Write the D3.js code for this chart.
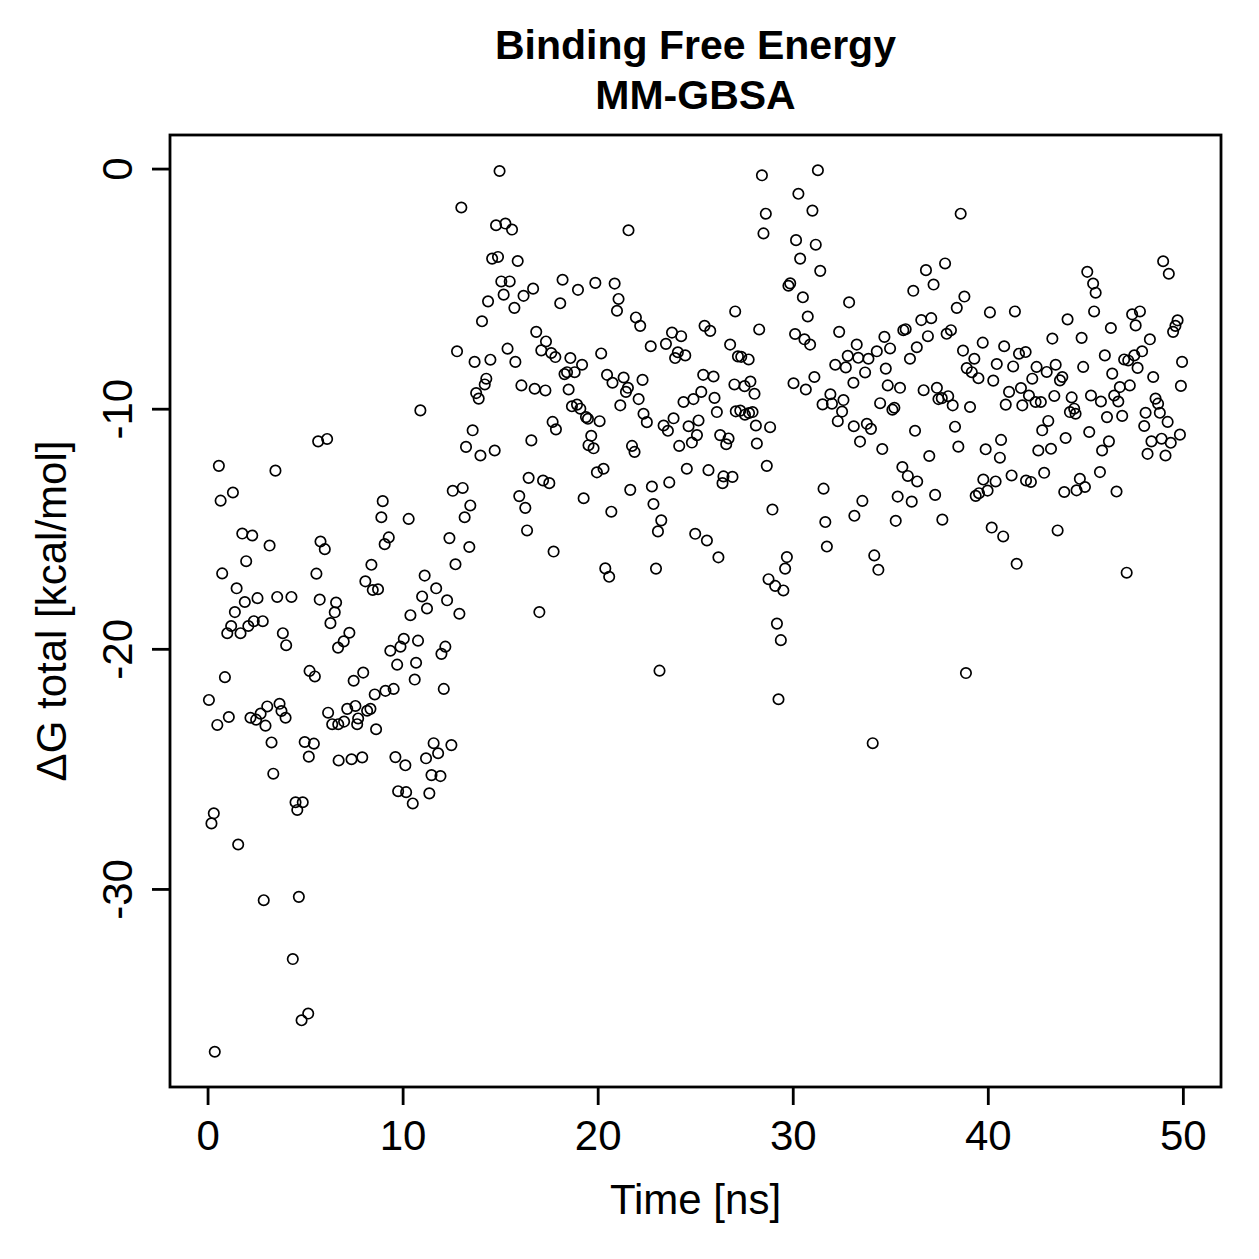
<!DOCTYPE html>
<html>
<head>
<meta charset="utf-8">
<script src="https://cdn.jsdelivr.net/npm/d3@7"></script>
<style>
  body { margin: 0; background: #fff; }
  svg text { font-family: "Liberation Sans", Arial, Helvetica, sans-serif; fill: #000; }
</style>
</head>
<body>
<div id="chart"></div>
<script>
// simulation time [ns]
var time = [
  0.07,0.20,0.32,0.37,0.50,0.58,0.67,0.75,0.89,1.01,1.09,1.21,1.30,1.40,1.49,1.57,1.69,1.78,1.91,1.98,2.09,2.20,2.29,2.37,2.49,2.56,2.72,2.83,2.88,2.97,3.06,3.18,3.28,3.37,3.48,3.57,3.69,3.79,3.86,4.00,4.03,
  4.30,4.37,4.51,4.60,4.68,4.82,4.88,4.98,5.16,5.19,5.23,5.45,5.50,5.58,5.67,5.75,5.79,6.01,6.13,6.18,6.30,6.39,6.52,6.59,6.69,6.70,6.72,6.98,7.00,7.16,7.27,7.38,7.49,7.58,7.67,7.72,7.93,7.98,8.09,8.18,8.35,8.40,8.47,8.57,8.64,8.74,
  8.91,8.98,9.08,9.12,9.29,9.37,9.54,9.63,9.72,9.77,9.89,10.06,10.14,10.18,10.31,10.40,10.52,10.62,10.69,10.79,10.91,11.00,11.13,11.20,11.25,11.37,11.48,11.59,11.72,11.82,11.94,11.99,12.11,12.19,12.28,12.40,12.50,12.57,12.71,12.79,12.91,13.01,13.08,13.18,13.25,
  13.42,13.47,13.59,13.69,13.77,13.90,13.99,14.07,14.21,14.29,14.38,14.50,14.59,14.72,14.79,14.89,14.97,15.06,15.18,15.27,15.38,15.49,15.61,15.73,15.78,15.90,15.98,16.09,16.20,16.29,16.38,16.46,16.60,16.69,16.77,16.85,17.01,17.11,17.20,17.32,17.35,17.52,17.62,17.69,17.74,17.83,17.86,
  18.08,18.20,18.30,18.43,18.51,18.60,18.68,18.82,18.94,18.99,19.11,19.20,19.28,19.40,19.50,19.53,19.67,19.79,19.88,19.96,20.10,20.18,20.30,20.39,20.48,20.59,20.70,20.76,20.87,20.99,21.07,21.16,21.33,21.45,21.55,21.58,21.67,21.76,21.89,21.96,22.10,22.18,22.30,22.35,22.52,
  22.72,22.78,22.86,22.99,23.09,23.17,23.26,23.38,23.50,23.60,23.67,23.81,23.89,23.97,24.11,24.18,24.28,24.40,24.49,24.57,24.66,24.83,24.91,25.00,25.09,25.17,25.31,25.41,25.48,25.60,25.68,25.77,25.94,25.99,26.11,26.19,26.28,26.40,26.45,26.59,26.71,26.79,26.91,27.01,27.05,27.08,27.19,
  27.31,27.36,27.53,27.55,27.74,27.76,27.83,27.94,28.04,28.11,28.16,28.28,28.42,28.50,28.62,28.67,28.76,28.84,28.96,29.10,29.19,29.27,29.39,29.52,29.61,29.70,29.78,29.87,30.04,30.12,30.17,30.29,30.38,30.52,30.60,30.67,30.77,30.89,31.01,31.11,31.18,31.29,31.41,31.53,31.58,31.67,31.75,
  31.93,32.01,32.18,32.31,32.38,32.53,32.60,32.72,32.82,32.89,33.11,33.13,33.16,33.28,33.36,33.45,33.57,33.71,33.80,33.88,34.01,34.10,34.18,34.31,34.39,34.48,34.59,34.70,34.77,34.87,34.99,35.11,35.21,35.28,35.38,35.50,35.62,35.67,35.79,35.90,36.01,36.10,36.18,36.27,36.36,36.38,
  36.59,36.71,36.83,36.93,37.00,37.10,37.22,37.30,37.39,37.47,37.64,37.67,37.81,37.89,37.97,38.11,38.20,38.32,38.41,38.49,38.61,38.73,38.80,38.88,38.92,39.09,39.18,39.31,39.38,39.52,39.55,39.74,39.77,39.89,39.99,40.11,40.20,40.28,40.40,40.46,40.62,40.68,40.79,40.84,40.92,
  41.09,41.22,41.30,41.39,41.48,41.60,41.70,41.77,41.94,41.96,42.11,42.21,42.28,42.45,42.50,42.59,42.72,42.79,42.89,43.02,43.10,43.24,43.31,43.41,43.48,43.58,43.70,43.82,43.92,43.99,44.09,44.21,44.30,44.43,44.50,44.55,44.72,44.81,44.89,44.98,45.10,45.20,45.29,45.40,45.45,45.53,
  45.75,45.80,45.86,46.00,46.11,46.21,46.31,46.38,46.48,46.60,46.69,46.77,46.89,46.99,47.12,47.20,47.28,47.40,47.51,47.58,47.68,47.80,47.91,48.02,48.09,48.19,48.31,48.39,48.48,48.60,48.73,48.82,48.91,48.99,49.11,49.22,49.28,49.38,49.50,49.62,49.73,49.85,49.90,49.96
];

// delta G total [kcal/mol], same order as time
var dG = [
  -22.13,-27.27,-26.85,-36.78,-23.17,-12.38,-13.83,-16.86,-21.18,-19.35,-22.84,-19.05,-13.49,-18.47,-17.48,-28.15,-19.35,-15.20,-18.05,-16.35,-19.05,-22.87,-15.28,-18.85,-22.95,-17.89,-22.70,-18.85,-30.47,-23.20,-22.40,-15.70,-23.90,-25.20,-12.58,-17.84,-22.29,-22.59,-19.35,-22.87,-19.85,
  -17.84,-32.92,-26.39,-26.71,-30.33,-35.47,-26.39,-23.88,-35.19,-24.49,-20.92,-23.95,-21.15,-16.87,-11.36,-17.95,-15.53,-15.85,-11.26,-22.66,-18.93,-23.14,-18.48,-18.07,-19.95,-23.14,-24.65,-19.69,-23.03,-22.50,-19.33,-24.60,-21.33,-22.38,-23.14,-22.90,-24.52,-20.99,-17.19,-22.58,-22.50,-16.50,-17.55,-21.90,-23.35,-17.52,
  -14.52,-13.85,-15.64,-21.75,-15.36,-20.08,-21.67,-24.51,-20.66,-25.93,-19.91,-19.58,-24.85,-25.97,-14.59,-18.60,-26.44,-21.28,-20.58,-19.66,-10.07,-17.82,-16.95,-24.56,-18.32,-26.02,-25.26,-23.93,-17.48,-24.35,-25.30,-20.21,-21.67,-19.91,-17.98,-15.39,-24.01,-13.42,-16.48,-7.61,-18.54,-1.62,-13.30,-14.52,-11.59,
  -15.76,-14.03,-10.90,-8.05,-9.35,-9.58,-11.95,-6.36,-8.99,-8.75,-5.53,-7.96,-3.75,-11.74,-2.36,-3.68,-0.10,-4.70,-5.25,-2.29,-7.50,-4.70,-2.54,-5.80,-8.05,-3.85,-13.64,-9.03,-5.30,-14.13,-15.07,-12.88,-11.32,-5.00,-9.17,-6.80,-18.47,-7.57,-12.99,-9.24,-7.20,-13.10,-7.68,-10.55,-15.95,-7.85,-10.86,
  -5.61,-4.63,-8.56,-8.48,-9.20,-7.89,-9.90,-8.48,-9.83,-5.05,-10.00,-8.17,-13.73,-10.35,-10.42,-11.52,-11.13,-11.65,-4.76,-12.65,-10.52,-7.70,-12.50,-16.65,-8.59,-17.00,-14.29,-8.92,-4.79,-5.92,-5.43,-9.86,-8.70,-9.30,-9.13,-2.57,-13.38,-11.55,-11.80,-6.20,-9.60,-6.55,-8.80,-10.21,-10.56,
  -7.40,-13.24,-13.97,-16.66,-15.11,-20.91,-14.65,-10.70,-7.30,-10.92,-13.07,-6.83,-10.40,-7.89,-7.65,-11.55,-6.98,-9.72,-7.78,-12.50,-10.73,-11.41,-9.60,-15.21,-11.10,-10.49,-9.30,-8.59,-6.55,-15.49,-12.56,-6.76,-8.66,-9.55,-10.14,-16.19,-11.10,-13.10,-12.82,-11.48,-11.24,-7.33,-12.84,-8.99,-5.95,-10.11,-7.82,
  -10.08,-7.84,-9.06,-10.25,-7.95,-10.18,-8.87,-10.14,-9.38,-10.70,-11.45,-6.70,-0.28,-2.70,-1.88,-12.38,-17.10,-10.77,-14.20,-17.38,-18.95,-22.10,-19.64,-17.57,-16.66,-16.18,-4.88,-4.78,-8.94,-6.89,-2.98,-1.05,-3.75,-5.36,-7.11,-9.20,-6.16,-7.33,-1.75,-8.68,-3.17,-0.07,-4.26,-9.82,-13.33,-14.72,-15.74,
  -9.40,-9.79,-8.17,-10.52,-6.80,-10.12,-9.64,-8.28,-7.80,-5.57,-8.92,-10.73,-14.46,-7.33,-7.88,-11.37,-13.84,-8.49,-10.63,-7.92,-10.84,-23.93,-16.11,-7.61,-16.71,-9.77,-11.68,-7.01,-8.33,-9.03,-7.49,-10.04,-9.96,-14.67,-13.66,-9.13,-12.43,-6.73,-6.69,-12.80,-7.92,-13.87,-5.09,-10.92,-7.44,-13.03,
  -6.31,-9.23,-4.23,-6.98,-11.97,-6.23,-4.83,-13.59,-9.13,-9.60,-9.56,-14.62,-3.95,-6.88,-9.48,-6.73,-9.86,-10.75,-5.80,-11.58,-1.88,-7.58,-5.33,-21.01,-8.31,-9.93,-8.48,-7.92,-13.63,-8.73,-13.52,-7.25,-12.95,-11.69,-13.41,-5.99,-14.95,-8.83,-13.03,-8.14,-12.04,-11.30,-15.32,-7.40,-9.83,
  -9.30,-12.78,-8.24,-5.95,-16.46,-7.71,-9.14,-9.86,-7.64,-12.99,-9.45,-13.05,-8.75,-9.72,-8.26,-11.74,-9.72,-10.90,-12.67,-8.47,-10.51,-11.67,-7.08,-9.47,-8.17,-15.07,-8.82,-8.68,-13.47,-11.22,-6.28,-10.14,-9.53,-10.00,-10.21,-13.40,-12.92,-7.05,-8.26,-13.26,-4.30,-10.97,-9.45,-4.79,-5.95,-5.17,
  -12.64,-9.70,-11.74,-7.78,-10.35,-11.36,-6.64,-8.54,-9.45,-13.45,-9.70,-9.10,-10.30,-7.95,-16.83,-7.99,-9.03,-6.07,-7.78,-6.53,-8.30,-5.95,-7.61,-10.72,-10.17,-11.88,-7.11,-11.36,-8.68,-9.58,-9.79,-10.17,-11.25,-3.86,-11.95,-10.55,-4.38,-11.42,-6.80,-6.55,-6.32,-11.08,-9.05,-8.05
];

var xTicks = [0, 10, 20, 30, 40, 50];
var yTicks = [0, -10, -20, -30];
var titleLines = ["Binding Free Energy", "MM-GBSA"];
var xLabel = "Time [ns]";
var yLabel = "\u0394G total [kcal/mol]";

var width = 1259, height = 1259;
var box = { left: 170, right: 1221, top: 135, bottom: 1087 };
var fontSize = 42;
var lineW = 2.8;

// R style axis range: data range plus 4% on each side
function paddedExtent(vals) {
    var ext = d3.extent(vals);
    var pad = (ext[1] - ext[0]) * 0.04;
    return [ext[0] - pad, ext[1] + pad];
}

// plain hyphen for negatives, as R prints them
function plainNumber(d) { return String(d); }

var svg = d3.select("#chart").append("svg")
    .attr("width", width)
    .attr("height", height);

var x = d3.scaleLinear().domain(paddedExtent(time)).range([box.left, box.right]);
var y = d3.scaleLinear().domain(paddedExtent(dG)).range([box.bottom, box.top]);

// points (open circles, like pch = 1)
var points = time.map(function (t, i) { return { t: t, v: dG[i] }; });
svg.append("g")
    .selectAll("circle")
    .data(points)
    .enter()
    .append("circle")
    .attr("cx", function (d) { return x(d.t); })
    .attr("cy", function (d) { return y(d.v); })
    .attr("r", 5.2)
    .style("fill", "none")
    .style("stroke", "#000")
    .style("stroke-width", 1.7);

// x axis
var gx = svg.append("g")
    .attr("transform", "translate(0," + box.bottom + ")")
    .call(d3.axisBottom(x).tickValues(xTicks).tickSize(18).tickFormat(plainNumber));
gx.select(".domain").remove();
gx.selectAll(".tick line").style("stroke", "#000").style("stroke-width", lineW);
gx.selectAll(".tick text").attr("dy", null).attr("y", 63).style("font-size", fontSize + "px");

// y axis, labels parallel to the axis like R
var gy = svg.append("g")
    .attr("transform", "translate(" + box.left + ",0)")
    .call(d3.axisLeft(y).tickValues(yTicks).tickSize(18).tickFormat(plainNumber));
gy.select(".domain").remove();
gy.selectAll(".tick line").style("stroke", "#000").style("stroke-width", lineW);
gy.selectAll(".tick text")
    .attr("x", null)
    .attr("dy", null)
    .attr("text-anchor", "middle")
    .attr("transform", "translate(-38,0) rotate(-90)")
    .style("font-size", fontSize + "px");

// plot frame
svg.append("rect")
    .attr("x", box.left)
    .attr("y", box.top)
    .attr("width", box.right - box.left)
    .attr("height", box.bottom - box.top)
    .style("fill", "none")
    .style("stroke", "#000")
    .style("stroke-width", lineW);

// titles
var cx = (box.left + box.right) / 2;
svg.selectAll(".title")
    .data(titleLines)
    .enter()
    .append("text")
    .attr("class", "title")
    .attr("x", cx)
    .attr("y", function (d, i) { return 59 + i * 50; })
    .attr("text-anchor", "middle")
    .style("font-size", "41px")
    .style("font-weight", "bold")
    .text(function (d) { return d; });

svg.append("text")
    .attr("x", cx)
    .attr("y", 1214)
    .attr("text-anchor", "middle")
    .style("font-size", fontSize + "px")
    .text(xLabel);

svg.append("text")
    .attr("transform", "translate(66," + ((box.top + box.bottom) / 2) + ") rotate(-90)")
    .attr("text-anchor", "middle")
    .style("font-size", fontSize + "px")
    .text(yLabel);
</script>
</body>
</html>
